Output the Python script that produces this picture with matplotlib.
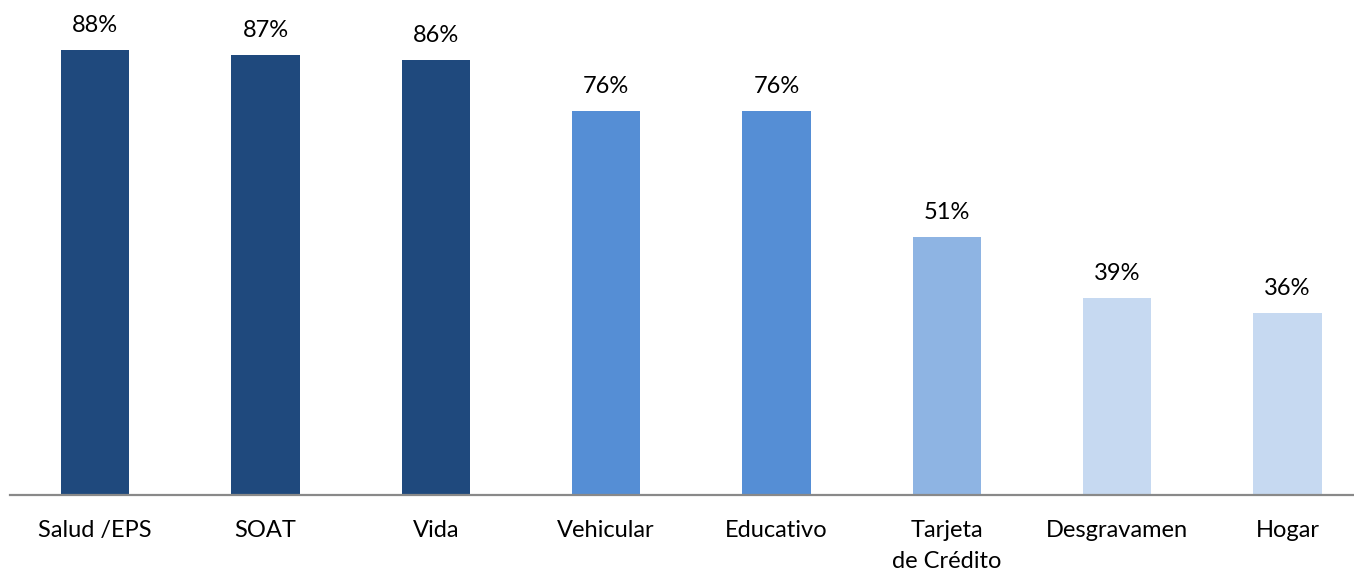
import matplotlib
matplotlib.use('Agg')
import matplotlib.pyplot as plt

categories = ['Salud /EPS', 'SOAT', 'Vida', 'Vehicular', 'Educativo',
              'Tarjeta\nde Crédito', 'Desgravamen', 'Hogar']
values = [88, 87, 86, 76, 76, 51, 39, 36]
colors = ['#1F497D', '#1F497D', '#1F497D', '#558ED5', '#558ED5',
          '#8EB4E3', '#C6D9F1', '#C6D9F1']

plt.rcParams['font.family'] = ['Lato', 'DejaVu Sans']

fig = plt.figure(figsize=(13.54, 5.74), dpi=100)
ax = fig.add_axes([10 / 1354, 79 / 574, 1 - 10 / 1354, 495 / 574])

x = range(len(categories))
ax.bar(x, values, width=0.4, color=colors)

for i, v in enumerate(values):
    ax.annotate('%d%%' % v, (i, v), xytext=(0, 10), textcoords='offset points',
                ha='center', va='bottom', fontsize=17, color='#000000')

ax.set_xlim(-0.5, 7.39)
ax.set_ylim(0, 97.9)
ax.set_xticks(list(x))
ax.set_xticklabels(categories, fontsize=17, linespacing=1.6)
ax.tick_params(axis='x', length=0, pad=18)
ax.set_yticks([])
for s in ['top', 'right', 'left']:
    ax.spines[s].set_visible(False)
ax.spines['bottom'].set_color('#898989')
ax.spines['bottom'].set_linewidth(1.6)

fig.savefig('out.png', dpi=100)
